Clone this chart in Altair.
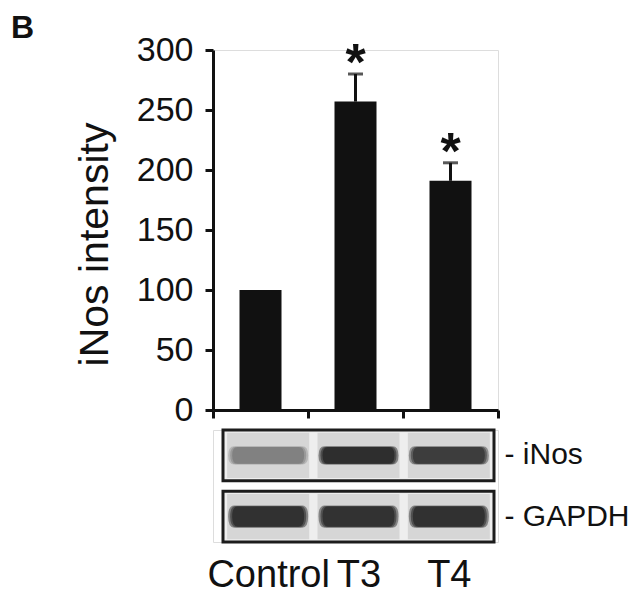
import altair as alt
import pandas as pd

# ---------------- data ----------------
PANEL = "B"
groups = ["Control", "T3", "T4"]
intensity = [100, 257, 191]          # bar heights (iNos intensity, % of control)
sem = [0, 23, 15]                    # upper error bars
signif = ["", "*", "*"]              # significance marks
y_ticks = [0, 50, 100, 150, 200, 250, 300]

blot_rows = ["iNos", "GAPDH"]
inos_band = [0.38, 1.0, 0.85]        # relative darkness of the western-blot bands
gapdh_band = [0.97, 0.95, 0.97]

# ---------------- styles ----------------
FONT = "Liberation Sans"
INK = "#111111"

bars_df = pd.DataFrame({"group": groups, "value": intensity, "err": sem, "sig": signif})
bars_df["upper"] = bars_df["value"] + bars_df["err"]

lanes_df = pd.DataFrame({
    "lane": groups * 2,
    "row": [r for r in blot_rows for _ in groups],
    "band": inos_band + gapdh_band,
})
frame_df = pd.DataFrame({"row": blot_rows})
panel_df = pd.DataFrame({"t": [PANEL]})


def xtop():
    return alt.X("group:N", sort=groups,
                 scale=alt.Scale(paddingInner=0, paddingOuter=0),
                 axis=alt.Axis(title=None, labels=False, tickBand="extent", tickSize=8,
                               tickWidth=3, tickColor=INK, domainWidth=3, domainColor=INK))


def ytop(field):
    return alt.Y(field, scale=alt.Scale(domain=[0, 300], nice=False),
                 axis=alt.Axis(title="iNos intensity", values=y_ticks, grid=False,
                               tickSize=8, tickWidth=3, tickColor=INK,
                               domainWidth=3, domainColor=INK,
                               labelFont=FONT, labelFontSize=34, labelColor=INK,
                               labelPadding=12,
                               titleFont=FONT, titleFontSize=41, titleFontWeight="normal",
                               titleColor=INK, titlePadding=20, titleY=194))


base = alt.Chart(bars_df)
bars = base.mark_bar(color=INK, width=42).encode(x=xtop(), y=ytop("value:Q"))
err_df = base.transform_filter("datum.err > 0")
rules = err_df.mark_rule(color=INK, strokeWidth=3).encode(
    x=xtop(), y=ytop("value:Q"), y2=alt.Y2("upper:Q"))
caps = err_df.mark_tick(color=INK, size=15, thickness=3).encode(x=xtop(), y=ytop("upper:Q"))
stars = err_df.mark_text(color=INK, font=FONT, fontSize=52, fontWeight="bold",
                         baseline="alphabetic", dy=6).encode(
    x=xtop(), y=ytop("upper:Q"), text="sig:N")
panel = alt.Chart(panel_df).mark_text(align="left", baseline="top", font=FONT, fontSize=32,
                                      fontWeight="bold", color=INK).encode(
    text="t:N", x=alt.value(-202), y=alt.value(-37))

top = alt.layer(bars, rules, caps, stars, panel).properties(width=285, height=360)

# ---------------- western blot ----------------
x_bot = alt.X("lane:N", sort=groups,
              scale=alt.Scale(range=[10, 281], paddingInner=0, paddingOuter=0),
              axis=alt.Axis(title=None, domain=False, ticks=False, tickSize=0,
                            labelFont=FONT, labelFontSize=38, labelColor=INK,
                            labelPadding=14, labelAngle=0))
y_bot = alt.Y("row:N", sort=blot_rows,
              scale=alt.Scale(paddingInner=0.17, paddingOuter=0),
              axis=alt.Axis(orient="right", title=None, domain=False, ticks=False, tickSize=0,
                            labelFont=FONT, labelFontSize=30, labelColor=INK, labelPadding=6,
                            labelExpr="'- ' + datum.label"))


def rrect(h):
    return (f"M-0.85,-{h} Q-1,-{h} -1,0 Q-1,{h} -0.85,{h} "
            f"L0.85,{h} Q1,{h} 1,0 Q1,-{h} 0.85,-{h} Z")


frame = alt.Chart(frame_df).mark_rect(fill="#eeeeee", stroke="#1c1c1c", strokeWidth=3).encode(
    x=alt.value(10), x2=alt.value(281), y=y_bot)

lane_bg = alt.Chart(lanes_df).mark_point(
    shape="M-1,-0.55L1,-0.55L1,0.55L-1,0.55Z", filled=True, fill="#d6d6d6",
    opacity=1, strokeWidth=0, size=82 ** 2).encode(x=x_bot, y=y_bot)

halo = alt.Chart(lanes_df).mark_point(filled=True, fill="black", strokeWidth=0,
                                      size=80 ** 2).encode(
    x=x_bot, y=y_bot,
    shape=alt.Shape("row:N", scale=alt.Scale(domain=blot_rows, range=[rrect(0.23), rrect(0.28)]),
                    legend=None),
    opacity=alt.Opacity("band:Q", scale=alt.Scale(domain=[0, 1], range=[0, 0.4]), legend=None))

mid = alt.Chart(lanes_df).mark_point(filled=True, fill="black", strokeWidth=0,
                                     size=76 ** 2).encode(
    x=x_bot, y=y_bot,
    shape=alt.Shape("row:N", scale=alt.Scale(domain=blot_rows, range=[rrect(0.18), rrect(0.23)]),
                    legend=None),
    opacity=alt.Opacity("band:Q", scale=alt.Scale(domain=[0, 1], range=[0, 0.6]), legend=None))

core = alt.Chart(lanes_df).mark_point(filled=True, fill="black", strokeWidth=0,
                                      size=72 ** 2).encode(
    x=x_bot, y=y_bot,
    shape=alt.Shape("row:N", scale=alt.Scale(domain=blot_rows, range=[rrect(0.13), rrect(0.18)]),
                    legend=None),
    opacity=alt.Opacity("band:Q", scale=alt.Scale(domain=[0, 1], range=[0, 1.0]), legend=None))

bottom = alt.layer(frame, lane_bg, halo, mid, core).properties(width=285, height=112)

chart = alt.vconcat(top, bottom, spacing=0).resolve_scale(
    x="independent", y="independent", shape="independent", opacity="independent"
).properties(padding={"left": 2, "top": 3, "right": 0, "bottom": 0}).configure_view(
    strokeWidth=0).configure(font=FONT)

chart.save("out.html", embed_options={"renderer": "svg", "actions": False})
